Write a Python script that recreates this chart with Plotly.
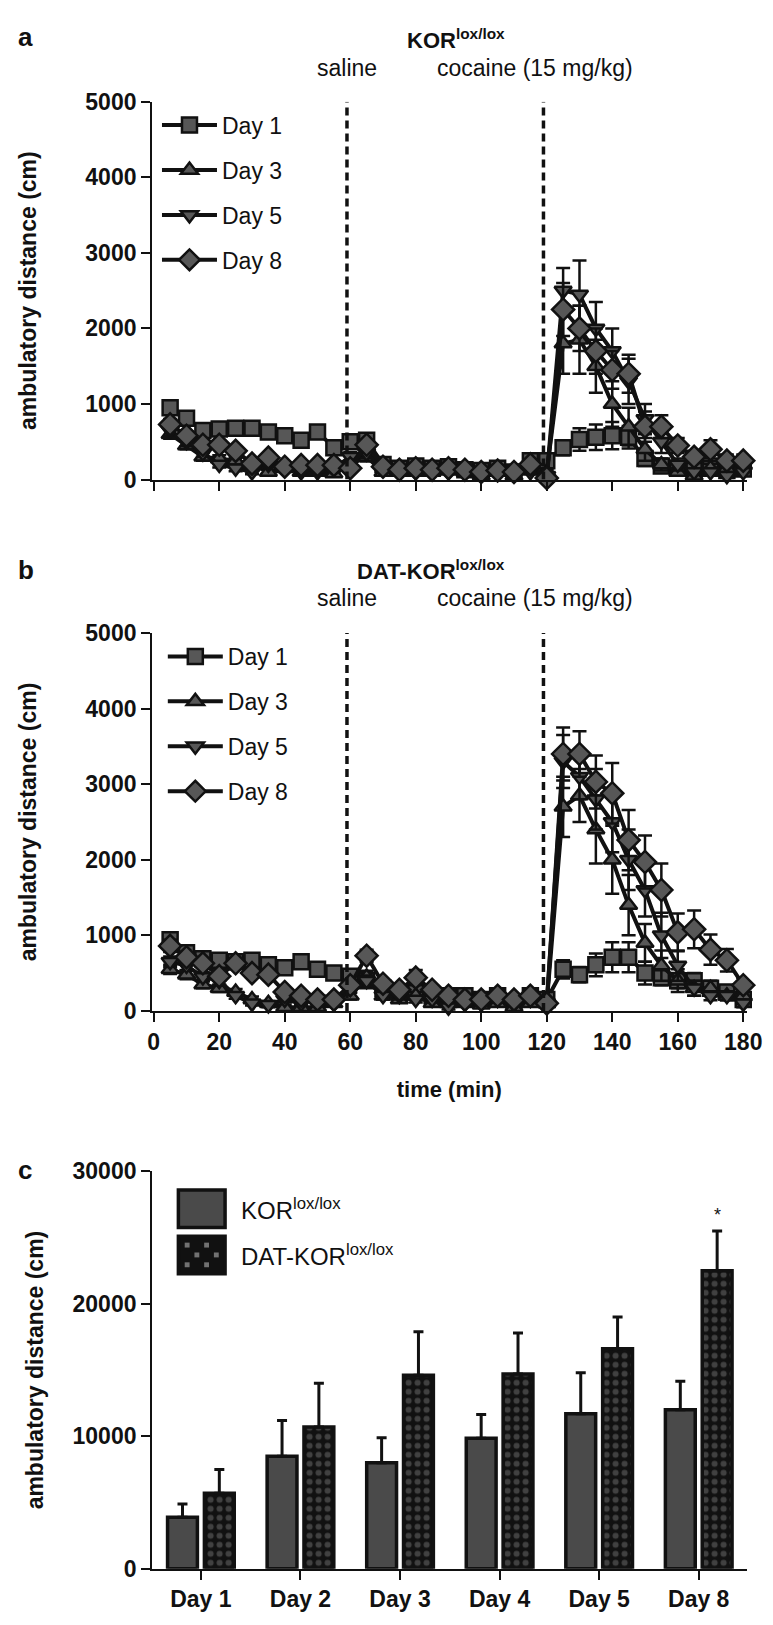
import plotly.graph_objects as go

W, H = 773, 1625

# ---------------- data ----------------
minutes = [5, 10, 15, 20, 25, 30, 35, 40, 45, 50, 55, 60, 65, 70, 75, 80, 85, 90,
           95, 100, 105, 110, 115, 120, 125, 130, 135, 140, 145, 150, 155, 160, 165, 170, 175, 180]
injection_times = [59, 119]
injection_labels = ["saline", "cocaine (15 mg/kg)"]
day_names = ["Day 1", "Day 3", "Day 5", "Day 8"]

# panel a: KOR lox/lox
a_d1 = [950, 810, 650, 670, 680, 680, 630, 580, 520, 630, 420, 500, 520, 200, 150, 180, 150, 170,
        130, 120, 150, 100, 250, 250, 420, 530, 560, 580, 560, 280, 180, 150, 130, 150, 120, 140]
a_d3 = [600, 450, 300, 280, 250, 200, 100, 150, 100, 100, 80, 200, 300, 100, 150, 100, 100, 150,
        100, 50, 100, 50, 120, 100, 1800, 1850, 1500, 1000, 700, 400, 200, 100, 50, 150, 150, 200]
a_d5 = [650, 500, 350, 200, 150, 100, 200, 150, 100, 100, 150, 300, 350, 150, 120, 100, 120, 100,
        120, 80, 100, 100, 100, 50, 2500, 2450, 2000, 1700, 1300, 800, 500, 200, 100, 100, 50, 100]
a_d8 = [730, 580, 460, 460, 380, 210, 290, 170, 190, 190, 190, 150, 460, 170, 130, 150, 130, 150,
        130, 100, 120, 100, 200, 20, 2250, 2000, 1700, 1450, 1400, 700, 700, 450, 300, 400, 250, 250]
a_d1_err = [80, 70, 60, 60, 60, 60, 60, 60, 60, 70, 60, 60, 60, 50, 40, 40, 40, 40,
            40, 30, 40, 30, 60, 60, 100, 150, 170, 180, 150, 100, 60, 50, 40, 50, 40, 50]
a_d3_err = [60, 50, 50, 40, 40, 40, 30, 40, 30, 30, 30, 50, 60, 30, 40, 30, 30, 40,
            30, 30, 30, 20, 30, 30, 400, 450, 350, 300, 250, 150, 80, 50, 40, 60, 60, 60]
a_d5_err = [70, 60, 50, 40, 40, 30, 40, 40, 30, 30, 40, 60, 60, 40, 30, 30, 30, 30,
            30, 30, 30, 30, 30, 20, 300, 450, 350, 300, 300, 200, 150, 80, 40, 40, 30, 40]
a_d8_err = [70, 60, 60, 50, 50, 40, 50, 40, 40, 40, 40, 40, 60, 40, 30, 40, 30, 40,
            30, 30, 30, 30, 50, 20, 350, 300, 300, 250, 250, 200, 150, 100, 80, 120, 80, 80]

# panel b: DAT-KOR lox/lox
b_d1 = [940, 770, 690, 670, 650, 670, 610, 570, 650, 550, 500, 460, 400, 300, 250, 250, 200, 200,
        200, 150, 200, 100, 200, 150, 550, 480, 610, 710, 710, 500, 440, 400, 400, 300, 250, 150]
b_d3 = [550, 480, 350, 300, 250, 150, 100, 50, 50, 50, 100, 200, 450, 200, 150, 200, 100, 100,
        100, 80, 100, 50, 100, 100, 2700, 2850, 2400, 2000, 1400, 900, 600, 400, 300, 300, 200, 200]
b_d5 = [650, 600, 450, 400, 200, 100, 80, 150, 100, 150, 100, 300, 400, 200, 200, 150, 150, 50,
        100, 100, 150, 100, 150, 100, 3300, 3100, 2800, 2500, 2000, 1600, 1000, 600, 300, 200, 200, 100]
b_d8 = [860, 710, 630, 460, 630, 500, 480, 250, 200, 150, 150, 340, 730, 360, 280, 440, 280, 200,
        150, 150, 200, 150, 200, 100, 3400, 3400, 3030, 2880, 2260, 1970, 1600, 1040, 1080, 810, 670, 340]
b_d1_err = [80, 70, 70, 60, 60, 60, 60, 60, 70, 60, 60, 60, 60, 50, 40, 40, 40, 40,
            40, 40, 40, 30, 40, 40, 120, 100, 150, 200, 200, 150, 100, 100, 100, 80, 60, 50]
b_d3_err = [60, 60, 50, 50, 40, 40, 30, 30, 30, 30, 30, 50, 80, 50, 40, 50, 30, 30,
            30, 30, 30, 30, 30, 30, 400, 350, 450, 450, 400, 250, 200, 150, 100, 100, 60, 60]
b_d5_err = [70, 70, 60, 60, 40, 30, 30, 40, 30, 40, 30, 60, 70, 50, 50, 40, 40, 30,
            30, 30, 40, 30, 40, 30, 350, 300, 400, 400, 400, 350, 300, 200, 100, 60, 60, 50]
b_d8_err = [80, 70, 60, 60, 60, 50, 50, 40, 40, 30, 30, 60, 80, 60, 50, 100, 50, 40,
            30, 30, 40, 30, 40, 30, 350, 300, 350, 400, 400, 350, 350, 250, 250, 200, 150, 100]

# panel c: total distance
days = ["Day 1", "Day 2", "Day 3", "Day 4", "Day 5", "Day 8"]
groups = ["KOR<sup>lox/lox</sup>", "DAT-KOR<sup>lox/lox</sup>"]
kor = [3900, 8500, 8000, 9850, 11700, 12000]
kor_err = [1000, 2700, 1900, 1800, 3100, 2150]
dat = [5700, 10700, 14600, 14700, 16600, 22500]
dat_err = [1800, 3300, 3300, 3100, 2400, 3000]

# ---------------- styling ----------------
FONT = "Liberation Sans"
BLACK = "#111111"
GRAY = "#575757"
BAR_GRAY = "#4a4a4a"
symbols = ["square", "triangle-up", "triangle-down", "diamond"]
msizes = [15, 15, 15, 17]


def px(x):
    return x / W


def py(y):
    return 1 - y / H


XL, XR = 143, 754
dom_x = [px(XL), px(XR)]
dom_a = [py(466), py(82)]
dom_b = [py(1006), py(622)]
dom_c = [py(1573), py(1169)]

fig = go.Figure()

panel_a = [a_d1, a_d3, a_d5, a_d8]
panel_a_err = [a_d1_err, a_d3_err, a_d5_err, a_d8_err]
panel_b = [b_d1, b_d3, b_d5, b_d8]
panel_b_err = [b_d1_err, b_d3_err, b_d5_err, b_d8_err]

for panel, errs, xa, ya, leg in [(panel_a, panel_a_err, "x", "y", "legend"),
                                 (panel_b, panel_b_err, "x2", "y2", "legend2")]:
    for name, vals, err, sym, ms in zip(day_names, panel, errs, symbols, msizes):
        fig.add_trace(go.Scatter(
            x=minutes, y=vals, name=name, mode="lines+markers",
            xaxis=xa, yaxis=ya, legend=leg, legendgroup=leg + name,
            line=dict(color=BLACK, width=4),
            marker=dict(symbol=sym, size=ms, color=GRAY, line=dict(color=BLACK, width=2.5)),
            error_y=dict(type="data", array=err, color=BLACK, thickness=2.5, width=7),
            cliponaxis=False,
        ))

fig.add_trace(go.Bar(
    x=days, y=kor, name=groups[0], xaxis="x3", yaxis="y3", showlegend=False,
    marker=dict(color=BAR_GRAY, line=dict(color=BLACK, width=3.5)),
    error_y=dict(type="data", array=kor_err, symmetric=False, arrayminus=[0] * 6,
                 color=BLACK, thickness=3, width=5),
))
fig.add_trace(go.Bar(
    x=days, y=dat, name=groups[1], xaxis="x3", yaxis="y3", showlegend=False,
    marker=dict(color=BLACK, line=dict(color=BLACK, width=3.5),
                pattern=dict(shape=".", fgcolor="#727272", bgcolor="#111111", size=9, solidity=0.35)),
    error_y=dict(type="data", array=dat_err, symmetric=False, arrayminus=[0] * 6,
                 color=BLACK, thickness=3, width=5),
))

TICKFONT = dict(family=FONT, size=23, color=BLACK, weight="bold")
axis_common = dict(showline=True, linecolor=BLACK, linewidth=2, ticks="outside", ticklen=9,
                   tickwidth=2, tickcolor=BLACK, showgrid=False, zeroline=False, tickfont=TICKFONT,
                   ticklabeloverflow="allow")
TITLEFONT = dict(family=FONT, size=23, color=BLACK, weight="bold")

fig.update_layout(
    width=W, height=H, autosize=False, margin=dict(l=0, r=0, t=0, b=0),
    paper_bgcolor="white", plot_bgcolor="white", showlegend=True,
    bargap=0.26, bargroupgap=0.19, barmode="group",
    xaxis=dict(domain=dom_x, range=[-0.5, 181], anchor="y", tickvals=list(range(0, 181, 20)),
               showticklabels=False, **axis_common),
    yaxis=dict(domain=dom_a, range=[0, 5000], anchor="x", tickvals=[0, 1000, 2000, 3000, 4000, 5000],
               title=dict(text="ambulatory distance (cm)", font=TITLEFONT, standoff=42), **axis_common),
    xaxis2=dict(domain=dom_x, range=[-0.5, 181], anchor="y2", tickvals=list(range(0, 181, 20)),
                title=dict(text="time (min)", font=dict(family=FONT, size=22, color=BLACK, weight="bold"),
                           standoff=28),
                **axis_common),
    yaxis2=dict(domain=dom_b, range=[0, 5000], anchor="x2", tickvals=[0, 1000, 2000, 3000, 4000, 5000],
                title=dict(text="ambulatory distance (cm)", font=TITLEFONT, standoff=42), **axis_common),
    xaxis3=dict(domain=dom_x, range=[-0.49, 5.48], anchor="y3", type="category", **axis_common),
    yaxis3=dict(domain=dom_c, range=[0, 30000], anchor="x3", tickvals=[0, 10000, 20000, 30000],
                tickformat="d",
                title=dict(text="ambulatory distance (cm)", font=TITLEFONT, standoff=22), **axis_common),
    legend=dict(x=px(148), y=py(84), xanchor="left", yanchor="top", tracegroupgap=12, itemwidth=55,
                font=dict(family=FONT, size=23, color=BLACK), bgcolor="rgba(0,0,0,0)"),
    legend2=dict(x=px(154), y=py(624), xanchor="left", yanchor="top", tracegroupgap=12, itemwidth=55,
                 font=dict(family=FONT, size=23, color=BLACK), bgcolor="rgba(0,0,0,0)"),
)

# dashed injection lines
for xa, ya in [("x", "y"), ("x2", "y2")]:
    for t in injection_times:
        fig.add_shape(type="line", xref=xa, yref=ya, x0=t, x1=t, y0=0, y1=5000,
                      line=dict(color=BLACK, width=3.5, dash="8px,5px"))

# panel c legend swatches (paper coordinates)
SW_X0, SW_X1 = 170, 218
sw_rows = [(1188, 1226), (1235, 1273)]
fig.add_shape(type="rect", xref="paper", yref="paper", x0=px(SW_X0), x1=px(SW_X1),
              y0=py(sw_rows[0][1]), y1=py(sw_rows[0][0]),
              fillcolor=BAR_GRAY, line=dict(color=BLACK, width=3.5))
fig.add_shape(type="rect", xref="paper", yref="paper", x0=px(SW_X0), x1=px(SW_X1),
              y0=py(sw_rows[1][1]), y1=py(sw_rows[1][0]),
              fillcolor=BLACK, line=dict(color=BLACK, width=3.5))
for i in range(4):
    for j in range(3):
        if (i + j) % 2 == 0:
            cx = SW_X0 + 9 + i * 10
            cy = sw_rows[1][0] + 9 + j * 10
            fig.add_shape(type="rect", xref="paper", yref="paper",
                          x0=px(cx - 2.5), x1=px(cx + 2.5), y0=py(cy + 2.5), y1=py(cy - 2.5),
                          fillcolor="#727272", line=dict(width=0))

ann = []
# panel letters
for letter, ypos in [("a", 16), ("b", 558), ("c", 1168)]:
    ann.append(dict(text=letter, x=px(3), y=py(ypos), xref="paper", yref="paper", xanchor="left",
                    yanchor="middle", showarrow=False,
                    font=dict(family=FONT, size=26, color=BLACK, weight="bold")))
# titles
ann.append(dict(text="KOR<sup>lox/lox</sup>", x=px(455), y=py(18), xref="paper", yref="paper",
                xanchor="center", yanchor="middle",
                showarrow=False, font=dict(family=FONT, size=22, color=BLACK, weight="bold")))
ann.append(dict(text="DAT-KOR<sup>lox/lox</sup>", x=px(430), y=py(558), xref="paper", yref="paper",
                xanchor="center", yanchor="middle",
                showarrow=False, font=dict(family=FONT, size=22, color=BLACK, weight="bold")))
for (xa, ylab) in [("x", 48), ("x2", 586)]:
    for t, lab, shift in zip(injection_times, injection_labels, [0, -8]):
        ann.append(dict(text=lab, x=t, xref=xa, y=py(ylab), yref="paper", showarrow=False,
                        xanchor="center", yanchor="middle", xshift=shift,
                        font=dict(family=FONT, size=23, color=BLACK)))
# panel c legend text
for lab, (y0, y1) in zip(groups, sw_rows):
    ann.append(dict(text=lab, x=px(232), y=py((y0 + y1) / 2), xref="paper", yref="paper",
                    xanchor="left", yanchor="middle", showarrow=False,
                    font=dict(family=FONT, size=24, color=BLACK)))
# significance
ann.append(dict(text="*", x=days[5], y=dat[5] + dat_err[5], xref="x3", yref="y3", xshift=19, yshift=16,
                showarrow=False, font=dict(family=FONT, size=18, color=BLACK)))
fig.update_layout(annotations=ann)

fig.write_html("out.html")
